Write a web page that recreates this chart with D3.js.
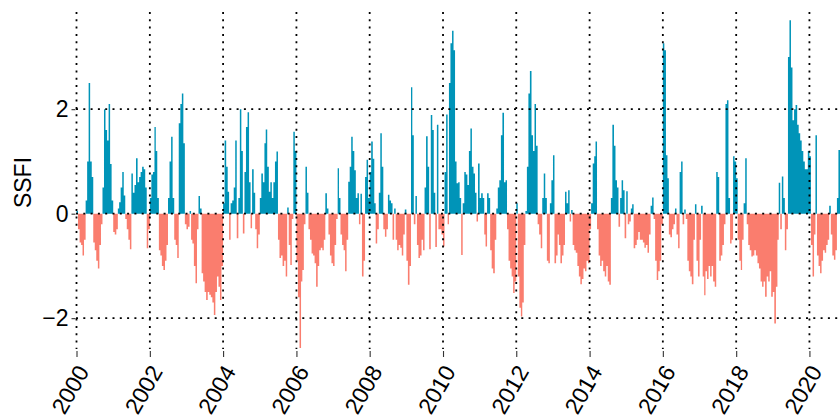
<!DOCTYPE html>
<head>
<meta charset="utf-8">
<title>SSFI</title>
<style>
body { margin: 0; background: #fff; }
svg { font-family: "Liberation Sans", Arial, sans-serif; }
.grid line { stroke: #000; stroke-width: 1.8; stroke-dasharray: 2, 5.3; }
.axis path { display: none; }
.axis line { stroke: #333; stroke-width: 1.1; }
.axis text { font-size: 23px; fill: #000; }
</style>
</head>
<body>
<svg id="chart"></svg>
<script src="https://cdn.jsdelivr.net/npm/d3@7"></script>
<script>

// semi-monthly SSFI values (1st and 16th of each month)
var startYear = 2000;
var stepsPerYear = 24;

var ssfi2000_04 = [
  0.05,-0.3,-0.55,-0.6,-0.8,-0.5,0.25,1.0,2.5,1.0,0.7,-0.55,-0.7,-0.9,-1.05,-0.6,-0.2,0.5,2.0,1.6,1.4,2.1,0.95,0.25,
  -0.35,-0.4,-0.3,0.1,0.22,0.5,0.8,0.35,-0.1,-0.3,-0.5,-0.68,0.77,0.4,0.55,1.06,0.6,0.7,0.8,0.9,0.85,0.5,-0.66,-0.3,
  0.3,0.75,0.8,1.66,1.2,0.3,-0.7,-0.8,-1.0,-1.08,-0.9,-0.6,0.3,1.0,1.47,0.3,-0.5,-0.6,-0.85,1.73,2.1,2.3,1.35,-0.2,
  -0.3,-0.25,0.05,-0.5,-0.57,-1.0,-1.33,-0.3,0.34,0.1,-1.14,-1.3,-1.5,-1.65,-1.5,-1.55,-1.6,-1.7,-1.94,-1.5,-1.2,-1.4,-1.65,-1.0,
  0.2,1.4,0.9,0.42,-0.5,0.2,0.25,0.5,1.4,-0.47,0.3,2.0,1.2,-0.38,0.8,1.66,1.94,0.6,-0.28,0.85,0.4,-0.3,-0.66,-0.4
];
var ssfi2005_09 = [
  0.3,0.77,0.6,1.35,1.61,0.9,0.42,0.6,0.3,0.6,1.0,1.19,-0.5,-0.85,-0.8,-1.0,-0.9,-1.2,0.12,-0.6,-0.98,-0.1,1.57,1.2,
  -0.9,-1.6,-2.57,-1.3,-1.08,-0.2,0.9,0.4,-0.3,-0.5,-0.76,-0.8,-0.95,-1.4,-1.0,-0.7,-0.65,-0.7,-0.5,0.39,0.1,-0.4,-0.8,-0.95,
  -1.0,-0.6,-0.1,0.87,0.3,-0.4,-0.6,-0.7,-1.1,-0.5,0.61,0.9,1.47,1.2,0.83,0.3,0.39,-0.2,0.38,-1.2,-0.9,0.7,1.03,0.3,
  0.8,1.38,1.05,0.2,-0.57,-0.3,0.4,1.54,0.9,-0.3,-0.44,-0.3,0.36,0.25,0.2,-0.5,0.1,-0.5,-0.7,-0.6,-0.65,-0.8,-0.4,0.08,
  -0.9,-1.36,-1.0,2.42,1.5,-0.2,0.34,-0.6,-0.85,-0.8,-0.5,-0.7,0.5,1.48,0.9,-0.68,1.89,1.6,0.4,-0.64,1.7,-0.3,-0.3,-0.4
];
var ssfi2010_14 = [
  -0.63,0.8,1.9,-0.2,2.5,3.26,3.5,3.13,1.0,0.58,0.6,0.3,-0.79,0.2,0.8,0.75,0.55,1.2,1.63,0.9,0.77,0.4,-0.15,0.96,
  0.3,0.39,0.3,-0.4,-0.63,0.39,0.3,-0.7,-1.05,-1.14,-0.5,0.1,0.5,0.64,1.5,1.93,0.6,0.64,-0.3,-0.9,-1.05,-1.2,-1.52,-1.3,
  0.2,-1.2,-1.8,-1.97,-1.7,-0.6,0.05,0.9,2.3,2.73,1.5,1.2,2.1,1.3,-0.2,-0.4,-0.66,0.3,0.77,0.3,-0.9,-0.95,0.2,0.64,
  1.12,-0.95,-0.8,-0.4,-0.6,-0.95,-0.8,-0.6,0.42,0.2,0.45,-0.15,0.07,-0.6,-0.7,-0.75,-1.0,-1.2,-1.35,-1.25,-1.05,-1.1,-0.9,-0.95,
  -0.3,0.2,0.96,1.1,1.38,-0.3,-0.8,-1.0,-0.9,-1.1,-1.2,-1.0,-1.3,-1.36,0.3,1.7,1.3,0.64,0.5,-0.25,0.3,0.64,0.45,-0.47
];
var ssfi2015_19 = [
  0.43,-0.2,-0.15,0.1,0.18,-0.66,-0.6,-0.5,-0.35,-0.5,-0.5,-0.55,-0.65,-0.6,-0.75,-0.4,0.15,0.31,-0.1,-0.9,-1.27,-1.1,-0.9,-0.2,
  3.26,3.13,1.12,0.68,-0.4,-0.45,-0.3,-0.2,0.1,-0.4,-0.66,0.8,1.0,-0.2,0.08,-0.1,-0.9,-1.1,-1.2,-1.35,-0.5,0.18,-0.9,-1.2,
  -0.5,0.15,-1.2,-1.56,-1.1,-1.25,-1.0,-1.2,-1.0,-1.3,-1.4,0.8,0.7,-0.9,-0.8,-0.6,-0.2,2.1,2.17,0.3,-0.57,-0.5,1.1,1.0,
  0.68,-0.5,-0.9,-1.08,-0.5,0.2,1.06,-0.2,-0.6,-0.7,-0.82,-0.8,-0.7,-0.8,-0.95,-1.05,-1.3,-1.4,-1.3,-1.59,-1.2,-1.3,-1.1,-1.59,
  -1.5,-2.1,-1.4,-0.5,0.59,-0.3,0.71,0.3,-0.7,-0.3,3.0,3.7,2.8,1.79,2.0,2.08,1.7,1.54,1.4,1.2,1.0,0.85,0.85,1.2
];
var ssfi2020 = [
  1.1,-0.6,-1.2,-0.4,1.5,-0.8,-1.0,-1.14,-0.9,-0.7,-0.75,-0.6,-0.5,0.15,-0.4,-0.8,-0.88,-0.7,0.3,1.22,1.73
];

var xTickYears = [2000, 2002, 2004, 2006, 2008, 2010, 2012, 2014, 2016, 2018, 2020];
var yTicks = [-2, 0, 2];
var yLabel = "SSFI";

var width = 840, height = 420;
var plot = {left: 76, right: 846, top: 12, bottom: 349};

function stepDate(i) {
  var year = startYear + Math.floor(i / stepsPerYear);
  var k = i % stepsPerYear;
  return new Date(year, Math.floor(k / 2), k % 2 ? 16 : 1);
}

var values = [].concat(ssfi2000_04, ssfi2005_09, ssfi2010_14, ssfi2015_19, ssfi2020);
var data = values.map(function(v, i) { return {date: stepDate(i), value: v}; });
// closing point so the last step gets its width
data.push({date: stepDate(values.length), value: values[values.length - 1]});

var x = d3.scaleTime()
    .domain([new Date(2000, 0, 1), new Date(2021, 0, 1)])
    .range([76.5, 76.5 + 21 * 36.65]);

var y = d3.scaleLinear()
    .domain([-2.59, 3.86])
    .range([plot.bottom, plot.top]);

var svg = d3.select("#chart")
    .attr("width", width)
    .attr("height", height);

svg.append("rect")
    .attr("width", width)
    .attr("height", height)
    .attr("fill", "#fff");

var areaPos = d3.area()
    .curve(d3.curveStepAfter)
    .x(function(d) { return x(d.date); })
    .y0(y(0))
    .y1(function(d) { return y(Math.max(d.value, 0)); });

var areaNeg = d3.area()
    .curve(d3.curveStepAfter)
    .x(function(d) { return x(d.date); })
    .y0(y(0))
    .y1(function(d) { return y(Math.min(d.value, 0)); });

svg.append("path")
    .datum(data)
    .attr("d", areaNeg)
    .attr("fill", "#fa7d6e");

svg.append("path")
    .datum(data)
    .attr("d", areaPos)
    .attr("fill", "#0094b8");

// dotted grid, drawn above the bars
var grid = svg.append("g").attr("class", "grid");

grid.selectAll(".v")
    .data(xTickYears)
  .enter().append("line")
    .attr("x1", function(d) { return x(new Date(d, 0, 1)); })
    .attr("x2", function(d) { return x(new Date(d, 0, 1)); })
    .attr("y1", plot.top)
    .attr("y2", plot.bottom);

grid.selectAll(".h")
    .data(yTicks)
  .enter().append("line")
    .attr("x1", plot.left)
    .attr("x2", plot.right)
    .attr("y1", function(d) { return y(d); })
    .attr("y2", function(d) { return y(d); });

var xAxis = d3.axisBottom(x)
    .tickValues(xTickYears.map(function(d) { return new Date(d, 0, 1); }))
    .tickFormat(d3.timeFormat("%Y"))
    .tickSize(6);

var gx = svg.append("g")
    .attr("class", "axis")
    .attr("transform", "translate(0," + (plot.bottom + 2) + ")")
    .call(xAxis);

gx.selectAll("text")
    .attr("x", 0)
    .attr("y", 0)
    .attr("dy", 0)
    .attr("text-anchor", "end")
    .attr("transform", "translate(13,20.5) rotate(-60)");

var yAxis = d3.axisLeft(y)
    .tickValues(yTicks)
    .tickFormat(d3.format("d"))
    .tickSize(4)
    .tickPadding(3);

svg.append("g")
    .attr("class", "axis")
    .attr("transform", "translate(75.5,0)")
    .call(yAxis);

svg.append("text")
    .attr("transform", "translate(31," + ((plot.top + plot.bottom) / 2 + 2) + ") rotate(-90)")
    .attr("text-anchor", "middle")
    .style("font-size", "23px")
    .text(yLabel);

</script>
</body>
